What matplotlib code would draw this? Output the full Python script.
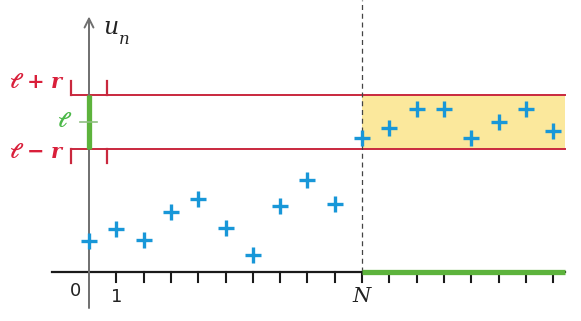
import matplotlib
matplotlib.use("Agg")
import matplotlib.pyplot as plt

plt.rcParams["mathtext.fontset"] = "dejavuserif"

# ---- data ----
n_values = list(range(18))
u_values = [1.14, 1.58, 1.17, 2.2, 2.67, 1.61, 0.62, 2.42, 3.37, 2.49,
            4.91, 5.27, 5.97, 5.97, 4.91, 5.49, 5.97, 5.17]
ell = 5.5
r = 1.0
N = 10
x_end = 17.44
tick_positions = list(range(1, 18))

RED = "#c9283e"
RED_TXT = "#d91f3a"
GREEN = "#5db33c"
GREEN_TXT = "#4bb848"
BLUE = "#1897d8"
YELLOW = "#fbe89c"

fig = plt.figure(figsize=(5.81, 3.21), dpi=100)
ax = fig.add_axes([0, 0, 1, 1])
ax.set_xlim(-89 / 27.3, 492 / 27.3)
ax.set_ylim(-49 / 27.3, 272 / 27.3)
ax.axis("off")

# yellow band after N
ax.fill_between([N, x_end], ell - r, ell + r, color=YELLOW, lw=0, zorder=1)

# red lines + brackets
bx = 0.66
ax.plot([-bx, x_end], [ell + r, ell + r], color=RED, lw=1.4, zorder=2)
ax.plot([-bx, x_end], [ell - r, ell - r], color=RED, lw=1.4, zorder=2)
for xb in (-bx, bx):
    ax.plot([xb, xb], [ell + r, ell + r + 0.48], color=RED, lw=1.6, zorder=2)
    ax.plot([xb, xb], [ell - r, ell - r - 0.5], color=RED, lw=1.6, zorder=2)

# dashed line at N
ax.plot([N, N], [0, 272 / 27.3], color="#444444", lw=0.9, ls=(0, (4, 3)), zorder=2)

# x axis
ax.plot([-1.36, x_end], [0, 0], color="#1a1a1a", lw=1.6, zorder=3)
for t in tick_positions:
    ax.plot([t, t], [0, -0.36], color="#1a1a1a", lw=1.5, zorder=3)
# green segment on x axis
ax.plot([N, x_end], [0, 0], color=GREEN, lw=3.8, zorder=4, solid_capstyle="butt")

# y axis with arrow
ax.annotate("", xy=(0, 9.36), xytext=(0, -1.32),
            arrowprops=dict(arrowstyle="->", color="#6f6f6f", lw=1.4,
                            mutation_scale=16, shrinkA=0, shrinkB=0), zorder=3)
# green bar on y axis
ax.plot([0, 0], [ell - r, ell + r], color=GREEN, lw=3.8, zorder=4, solid_capstyle="butt")
ax.plot([-0.33, 0.29], [ell, ell], color="#8fbf80", lw=1.2, zorder=4)

# points
ax.plot(n_values, u_values, ls="none", marker="+", color=BLUE,
        markersize=11, markeredgewidth=2.4, zorder=5)

# labels
ax.text(-0.9, ell + r + 0.45, r"$\boldsymbol{\ell}\ \mathbf{+}\ \boldsymbol{r}$", color=RED_TXT,
        ha="right", va="center", fontsize=15)
ax.text(-0.9, ell - r - 0.1, r"$\boldsymbol{\ell}\ \mathbf{-}\ \boldsymbol{r}$", color=RED_TXT,
        ha="right", va="center", fontsize=15)
ax.text(-0.6, ell + 0.05, r"$\boldsymbol{\ell}$", color=GREEN_TXT,
        ha="right", va="center", fontsize=15)

ax.text(0.8, (272 - 27) / 27.3, "u", family="DejaVu Serif", style="italic",
        fontsize=17, color="#222222", ha="center", va="center")
ax.text(1.3, (272 - 40) / 27.3, "n", family="DejaVu Serif", style="italic",
        fontsize=12, color="#222222", ha="center", va="center")

ax.text(-0.48, -0.68, "0", fontsize=13, color="#222222", ha="center", va="center")
ax.text(1.0, -0.93, "1", fontsize=13, color="#222222", ha="center", va="center")
ax.text(N, -0.9, "N", family="DejaVu Serif", style="italic", fontsize=15,
        color="#222222", ha="center", va="center")

fig.savefig("out.png", dpi=100)
